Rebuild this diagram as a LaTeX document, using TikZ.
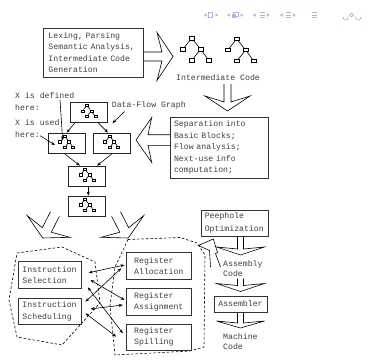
\documentclass[tikz,border=0pt]{standalone}
\usepackage{fontspec}
\setmonofont{Liberation Mono}
\usetikzlibrary{arrows.meta,calc}
\definecolor{navc}{RGB}{178,178,218}
\newcommand\harrow[8]{%
  \begin{scope}[shift={(#1,#2)}, rotate=#3]
    \draw[hollow] (-#4,#5) -- (-#6,#5) -- (-#7,#8) -- (0,0) -- (-#7,-#8) -- (-#6,-#5) -- (-#4,-#5);
  \end{scope}}
\newcommand\navl[1]{\fill[navc] (#1,15) -- (#1+2.6,13.2) -- (#1+2.6,16.8) -- cycle;}
\newcommand\navr[1]{\fill[navc] (#1+2.6,15) -- (#1,13.2) -- (#1,16.8) -- cycle;}
\newcommand\navlines[1]{\draw[navc, line width=0.7pt] (#1,12.8) -- (#1+5,12.8) (#1,15) -- (#1+5,15) (#1,17.2) -- (#1+5,17.2);}
\begin{document}
\begin{tikzpicture}[x=1pt, y=-1pt,
  font=\ttfamily\fontsize{8.2}{11.6}\selectfont,
  box/.style={draw=black!80, line width=0.9pt, align=left, inner sep=0pt, text=black!75},
  lbl/.style={inner sep=0pt, align=left, text=black!75},
  tn/.style={draw, fill=white, minimum width=5pt, minimum height=3.5pt, inner sep=0pt, line width=0.6pt},
  smalltree/.style={scale=0.5, tn/.style={draw, fill=white, minimum width=3pt, minimum height=2.4pt, inner sep=0pt, line width=0.5pt}},
  tree/.pic={
    \node[tn] (-r) at (0,0) {};
    \node[tn] (-a) at (-9,11) {};
    \node[tn] (-b) at (9,11) {};
    \node[tn] (-c) at (0,22) {};
    \node[tn] (-d) at (17,22) {};
    \draw[line width=0.6pt] (-r) -- (-a) (-r) -- (-b) (-b) -- (-c) (-b) -- (-d);
  },
  dfg/.style={draw=black!85, line width=0.8pt, minimum width=36.5pt, minimum height=20.5pt, inner sep=0pt},
  con/.style={-{Stealth[length=4pt,width=3pt]}, line width=0.6pt},
  dcon/.style={{Stealth[length=4pt,width=3pt]}-{Stealth[length=4pt,width=3pt]}, line width=0.6pt},
  hollow/.style={line width=0.6pt, line join=miter},
  region/.style={dash pattern=on 2.5pt off 2pt, line width=0.6pt}
]
\useasboundingbox (0,0) rectangle (373,364);
\fill[white] (0,0) rectangle (373,364);

% navigation symbols
\navl{204} \draw[navc, line width=0.7pt] (208.3,12.7) rectangle (212.7,17.3); \navr{215.5}
\navl{227} \fill[navc] (231.5,13.8) rectangle (235.5,17.6); \draw[navc, line width=0.6pt] (233.5,12) rectangle (237.8,16); \navr{240.5}
\navl{253} \navlines{259.5} \navr{267}
\navl{280} \navlines{285.5} \navr{293}
\navlines{312}
\draw[navc, line width=0.7pt, -{Stealth[length=2pt]}] (348,16.5) arc[start angle=-30, end angle=200, radius=2.4];
\draw[navc, line width=0.7pt] (351.5,15) circle[radius=1.8];
\draw[navc, line width=0.7pt, -{Stealth[length=2pt]}] (356,16.5) arc[start angle=210, end angle=-20, radius=2.4];

% top boxes
\node[box, minimum width=100pt, minimum height=49pt, text width=89pt] (lex) at (93,52.5)
  {Lexing, Parsing\\Semantic Analysis,\\Intermediate Code\\Generation};
\node[box, minimum width=98pt, minimum height=61pt, text width=90pt] (sep) at (219,147.5)
  {Separation into\\Basic Blocks;\\Flow analysis;\\Next-use info\\computation;};

% intermediate code trees
\pic (ta) at (191.7,38.3) {tree};
\pic (tb) at (236.7,39) {tree};
\node[lbl, anchor=west] (ic) at (176,77.5) {Intermediate Code};

% hollow arrows
\harrow{173}{56.5}{0}{29}{4.5}{11}{16}{24}
\harrow{227.5}{111}{-90}{27}{3.5}{9}{15}{22.5}
\harrow{136}{140}{180}{34}{5.3}{12}{15.7}{22.5}
\harrow{42.7}{238}{-117}{27}{5}{9}{13}{24}
\harrow{128.3}{238}{-63}{27}{5}{9}{13}{24}
\draw[hollow] (210.5,267) -- (209.5,250.5) -- (198.3,245.5) -- (213.3,239) -- (217.5,252.5) -- (215.5,253.5) -- (220.5,267);
\harrow{240.5}{255}{-90}{19}{3}{6}{8}{24}
\harrow{240.5}{291.5}{-90}{13}{3}{6}{8}{24}
\harrow{240.5}{328}{-90}{16}{3}{5}{7}{24}

% data-flow graph
\node[dfg] (t) at (88.8,112.5) {};
\node[dfg] (ml) at (66.7,143.3) {};
\node[dfg] (mr) at (111.7,143.3) {};
\node[dfg] (b3) at (87,176.3) {};
\node[dfg] (b4) at (87,206.3) {};
\pic[smalltree] (st1) at ($(t.center)+(-2,-7)$) {tree};
\pic[smalltree] (st2) at ($(ml.center)+(-2,-7)$) {tree};
\pic[smalltree] (st3) at ($(mr.center)+(-2,-7)$) {tree};
\pic[smalltree] (st4) at ($(b3.center)+(-2,-7)$) {tree};
\pic[smalltree] (st5) at ($(b4.center)+(-2,-7)$) {tree};
\draw[con] ($(t.south west)!0.12!(t.south east)$) -- (ml.north);
\draw[con] ($(t.south west)!0.76!(t.south east)$) -- ($(mr.north west)!0.4!(mr.north east)$);
\draw[con] ($(ml.south west)!0.45!(ml.south east)$) -- ($(b3.north west)!0.31!(b3.north east)$);
\draw[con] (mr.south) -- ($(b3.north west)!0.77!(b3.north east)$);
\draw[con] ([xshift=1.3pt]b3.south) -- ([xshift=1.3pt]b4.north);

% labels with arrows
\node[lbl, anchor=north west, font=\ttfamily\fontsize{8.2}{12.8}\selectfont] (xd) at (15,92) {X is defined\\here:};
\node[lbl, anchor=north west, font=\ttfamily\fontsize{8.2}{12}\selectfont] (xu) at (15,119.3) {X is used\\here:};
\node[lbl, anchor=west] (dfl) at (111.7,105) {Data-Flow Graph};
\draw[con] ([shift={(45,8)}]xd.north west) -- ([shift={(-4,-3)}]ml.center);
\draw[con] ([shift={(25,-2)}]xu.south west) -- ([shift={(-11.7,1.7)}]ml.center);
\draw[con] ([shift={(13,2.5)}]dfl.south west) -- ([xshift=5pt]t.south east);

% dashed regions
\draw[region] (17,253) -- (62,247) -- (95,262) -- (100,303) -- (62,345) -- (17,337) -- (9,300) -- cycle;
\draw[region] (128,239.5) -- (180,237.5) -- (197,243) -- (205,255) -- (204,347) -- (190,351) -- (115,355) -- (110,306) -- (115,267) -- cycle;

% back-end boxes
\node[box, minimum width=63.4pt, minimum height=26.6pt, text width=55pt, fill=white] (sel) at (50,275) {Instruction\\Selection};
\node[box, minimum width=63.4pt, minimum height=26pt, text width=55pt, fill=white] (sch) at (50,311.2) {Instruction\\Scheduling};
\node[box, minimum width=65pt, minimum height=26.6pt, text width=50pt, fill=white] (alloc) at (159.2,266) {Register\\Allocation};
\node[box, minimum width=65pt, minimum height=26.6pt, text width=50pt, fill=white] (assign) at (159.2,301.7) {Register\\Assignment};
\node[box, minimum width=65pt, minimum height=26pt, text width=50pt, fill=white] (spill) at (159.2,337) {Register\\Spilling};

\draw[dcon] ([shift={(6.6,-2.3)}]sel.east) -- ([shift={(-1.7,-1)}]alloc.west);
\draw[dcon] ([shift={(8.3,5)}]sel.east) -- ([shift={(-1.7,-1.7)}]assign.west);
\draw[dcon] ([shift={(5.6,12.3)}]sel.east) -- ([shift={(-3.4,-3.7)}]spill.west);
\draw[dcon] ([shift={(3.3,-9.5)}]sch.east) -- ([shift={(-5,2.3)}]alloc.west);
\draw[dcon] ([shift={(8.3,-2.2)}]sch.east) -- ([shift={(-3.4,3.3)}]assign.west);
\draw[dcon] ([shift={(3.3,2.1)}]sch.east) -- ([shift={(-10,-0.3)}]spill.west);

% right column
\node[box, minimum width=67pt, minimum height=26pt, text width=59.5pt, font=\ttfamily\fontsize{8.2}{12.6}\selectfont] (peep) at (234.5,223) {Peephole\\Optimization};
\node[lbl, anchor=west, font=\ttfamily\fontsize{8.2}{10.2}\selectfont] (asm) at (223,268.5) {Assembly\\Code};
\node[box, minimum width=53pt, minimum height=16pt, align=center] (asmr) at (240.5,304) {Assembler};
\node[lbl, anchor=west, font=\ttfamily\fontsize{8.2}{10.2}\selectfont] (mc) at (223,341.5) {Machine\\Code};
\end{tikzpicture}
\end{document}
